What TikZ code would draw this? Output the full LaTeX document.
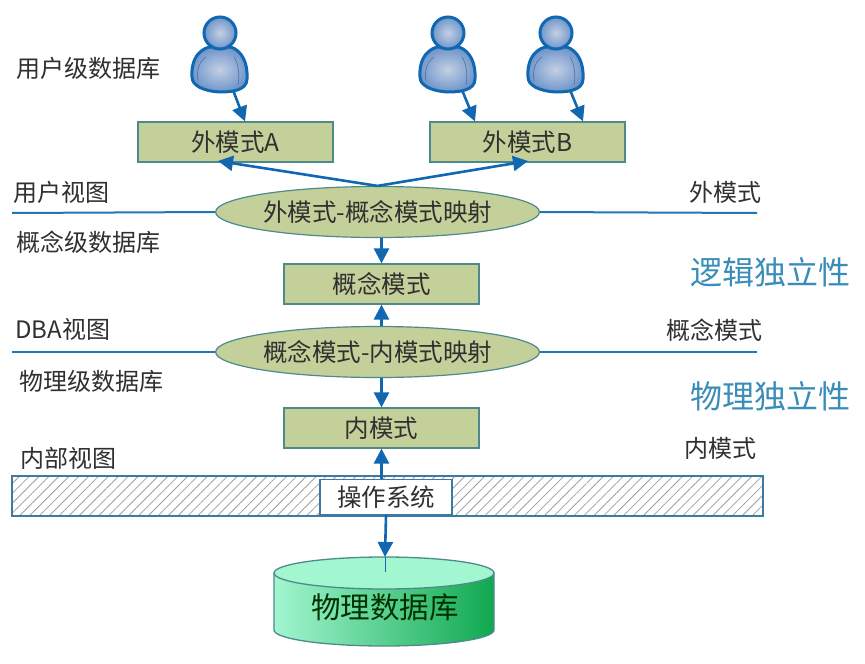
\documentclass[tikz,border=0pt]{standalone}
\usepackage{fontspec}
\setmainfont{Noto Sans CJK SC}
\usetikzlibrary{arrows.meta,patterns.meta,calc,shapes.geometric}
\definecolor{boxgreen}{HTML}{C3D09A}
\definecolor{boxedge}{HTML}{4F8A8B}
\definecolor{arrowblue}{HTML}{1168B0}
\definecolor{linkblue}{HTML}{1F78B4}
\definecolor{titleblue}{HTML}{3A8DB8}
\definecolor{txt}{HTML}{303030}
\definecolor{skinin}{HTML}{C4CFE2}
\definecolor{skinout}{HTML}{6E96CC}
\definecolor{dbpale}{HTML}{A2F6D0}
\definecolor{dbmid}{HTML}{8CE8B8}
\definecolor{dbdark}{HTML}{10A850}
\tikzset{
  mbox/.style={draw=boxedge,line width=1.2pt,fill=boxgreen,minimum width=195pt,minimum height=40pt,inner sep=0pt,font=\fontsize{24.5}{26}\selectfont,text=txt},
  mell/.style={ellipse,draw=boxedge,line width=1.2pt,fill=boxgreen,minimum width=321pt,minimum height=51pt,inner sep=0pt,font=\fontsize{24.5}{26}\selectfont,text=txt},
  lab/.style={font=\fontsize{24}{26}\selectfont,text=txt,inner sep=0pt},
  bluelab/.style={font=\fontsize{32}{34}\selectfont,text=titleblue,inner sep=0pt},
  flow/.style={draw=arrowblue,line width=2.6pt,-{Triangle[length=15pt,width=15pt]}},
  rule/.style={draw=linkblue,line width=2pt},
  persona/.pic={
    \draw[draw=arrowblue,line width=3pt,inner color=skinin,outer color=skinout]
      (-11,14) .. controls (-24,18) and (-29,30) .. (-28,44)
      .. controls (-28,52) and (-18,58) .. (0,59)
      .. controls (10,59) and (27,58) .. (27,46)
      .. controls (28,30) and (22,18) .. (11,14) -- cycle;
    \draw[draw=skinout!80!black,line width=.7pt] (-22,48) .. controls (-24,36) and (-20,28) .. (-14,24);
    \draw[draw=skinout!80!black,line width=.7pt] (18,52) .. controls (20,40) and (18,30) .. (14,24);
    \draw[draw=arrowblue,line width=3pt,inner color=skinin,outer color=skinout] (0,0) circle (16pt);
  }
}
\begin{document}
\begin{tikzpicture}[x=1pt,y=-1pt]
\useasboundingbox (0,0) rectangle (865,664);
\fill[white] (0,0) rectangle (865,664);

% people
\pic at (220,33) {persona};
\pic at (448,33) {persona};
\pic at (556,33) {persona};
\coordinate (u1) at (233,90);
\coordinate (u2) at (462,90);
\coordinate (u3) at (570,90);

% boxes
\node[mbox] (ea) at (235.5,142) {外模式A};
\node[mbox] (eb) at (527.5,142) {外模式B};
\node[mbox] (con) at (381.5,284) {概念模式};
\node[mbox] (inn) at (381.5,428) {内模式};
\node[mell] (em) at (377.5,212) {外模式-概念模式映射};
\node[mell] (im) at (377.5,352) {概念模式-内模式映射};

% hatched band
\path[pattern={Lines[angle=45,distance=7pt,line width=.8pt]},pattern color=gray!75] (12,476) rectangle (763,516);
\draw[draw=linkblue!70!gray,line width=1.2pt] (12,476) rectangle (763,516);
\node[draw=linkblue!70!gray,line width=1.2pt,fill=white,minimum width=132pt,minimum height=35pt,inner sep=0pt,font=\fontsize{24.5}{26}\selectfont,text=txt] (os) at (386,497) {操作系统};

% cylinder
\path[left color=dbpale,middle color=dbmid,right color=dbdark]
  (274,573) -- (274,630) arc[start angle=180,end angle=0,x radius=110,y radius=16] -- (494,573) -- cycle;
\draw[draw=boxedge,line width=1.3pt] (274,573) -- (274,630) arc[start angle=180,end angle=0,x radius=110,y radius=16] -- (494,573);
\draw[draw=boxedge,line width=1.3pt,fill=dbpale] (384,573) coordinate (cylc) ellipse[x radius=110,y radius=16];
\coordinate (cyltop) at (385,557);
\coordinate (cylin) at (385,572);
\node[font=\fontsize{29.5}{32}\selectfont,text=black!80!green,inner sep=0pt] (db) at (385,607) {物理数据库};

% rule lines
\coordinate (l1) at (12,213);
\coordinate (r1) at (757,213);
\coordinate (l2) at (12,352);
\coordinate (r2) at (757,352);
\draw[rule] (l1) -- (em.west);
\draw[rule] (em.east) -- (r1);
\draw[rule] (l2) -- (im.west);
\draw[rule] (im.east) -- (r2);

% arrows
\draw[flow] (u1) -- (ea.north -| 245,0);
\draw[flow] (u2) -- (eb.north -| 475,0);
\draw[flow] (u3) -- (eb.north -| 583,0);
\draw[flow] (em.north) -- (218,161);
\draw[flow] (em.north) -- (528,161);
\draw[flow] (em.south -| con.north) -- (con.north);
\draw[flow] (im.north -| con.south) -- (con.south);
\draw[flow] (im.south -| inn.north) -- (inn.north);
\draw[flow] (os.north -| inn.south) -- (inn.south);
\draw[flow] (os.south) -- (cyltop);
\draw[draw=arrowblue,line width=.9pt] (cyltop) -- (cylin);

% labels
\node[lab,anchor=west] (t1) at (16,68) {用户级数据库};
\node[lab,anchor=west] (t2) at (13,192) {用户视图};
\node[lab,anchor=west] (t3) at (16,242) {概念级数据库};
\node[lab,anchor=west] (t4) at (15,329) {DBA视图};
\node[lab,anchor=west] (t5) at (19,381) {物理级数据库};
\node[lab,anchor=west] (t6) at (20,458) {内部视图};
\node[lab,anchor=east] (t7) at (762,192) {外模式};
\node[lab,anchor=east] (t8) at (763,330) {概念模式};
\node[lab,anchor=east] (t9) at (757,448) {内模式};
\node[bluelab,anchor=west] (t10) at (690,272) {逻辑独立性};
\node[bluelab,anchor=west] (t11) at (690,396) {物理独立性};
\end{tikzpicture}
\end{document}
